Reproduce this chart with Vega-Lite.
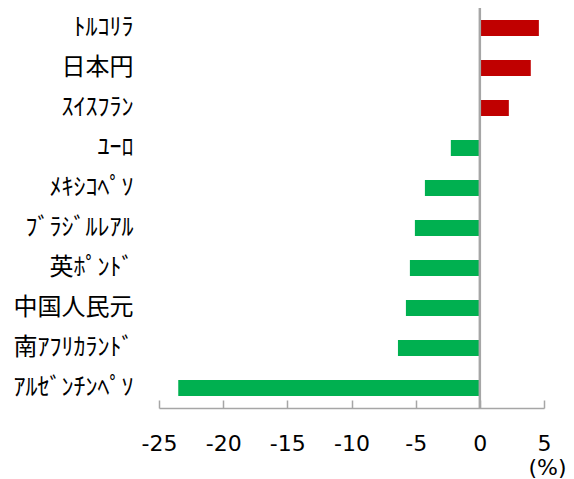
{
  "$schema": "https://vega.github.io/schema/vega-lite/v6.json",
  "width": 385,
  "height": 400,
  "autosize": {"type": "none"},
  "padding": {"left": 159, "top": 8, "right": 30, "bottom": 71},
  "background": "white",
  "config": {"view": {"stroke": null}},
  "data": {
    "values": [
      {"currency": "ﾄﾙｺﾘﾗ", "value": 4.6},
      {"currency": "日本円", "value": 3.97},
      {"currency": "ｽｲｽﾌﾗﾝ", "value": 2.26},
      {"currency": "ﾕｰﾛ", "value": -2.26},
      {"currency": "ﾒｷｼｺﾍﾟｿ", "value": -4.28},
      {"currency": "ﾌﾞﾗｼﾞﾙﾚｱﾙ", "value": -5.06},
      {"currency": "英ﾎﾟﾝﾄﾞ", "value": -5.45},
      {"currency": "中国人民元", "value": -5.76},
      {"currency": "南ｱﾌﾘｶﾗﾝﾄﾞ", "value": -6.38},
      {"currency": "ｱﾙｾﾞﾝﾁﾝﾍﾟｿ", "value": -23.5}
    ]
  },
  "layer": [
    {
      "mark": {"type": "bar", "size": 16},
      "encoding": {
        "y": {
          "field": "currency",
          "type": "nominal",
          "sort": null,
          "scale": {"paddingInner": 0.6, "paddingOuter": 0.3},
          "axis": {
            "title": null,
            "domain": false,
            "ticks": false,
            "labelPadding": 26,
            "labelFont": "Noto Sans CJK JP",
            "labelFontSize": 24,
            "labelColor": "#000000"
          }
        },
        "x": {
          "field": "value",
          "type": "quantitative",
          "scale": {"domain": [-25, 5], "nice": false},
          "axis": {
            "values": [-25, -20, -15, -10, -5, 0, 5],
            "labelExpr": "datum.value + ''",
            "labelFlush": false,
            "labelOverlap": false,
            "grid": false,
            "domainColor": "#A6A6A6",
            "domainWidth": 1.5,
            "tickColor": "#A6A6A6",
            "tickWidth": 1.5,
            "tickSize": -8,
            "labelPadding": 33,
            "labelFont": "DejaVu Sans",
            "labelFontSize": 22,
            "labelColor": "#000000",
            "title": "(%)",
            "titleFont": "DejaVu Sans",
            "titleFontSize": 22,
            "titleFontWeight": "normal",
            "titleColor": "#000000",
            "titleAnchor": "end",
            "titleAlign": "right",
            "titleBaseline": "alphabetic",
            "titleX": 407,
            "titleY": 66
          }
        },
        "color": {
          "condition": {"test": "datum.value > 0", "value": "#C00000"},
          "value": "#00B050"
        }
      }
    },
    {
      "data": {"values": [{"zero": 0}]},
      "mark": {"type": "rule", "color": "#A6A6A6", "strokeWidth": 2.5},
      "encoding": {
        "x": {"field": "zero", "type": "quantitative"}
      }
    }
  ]
}
